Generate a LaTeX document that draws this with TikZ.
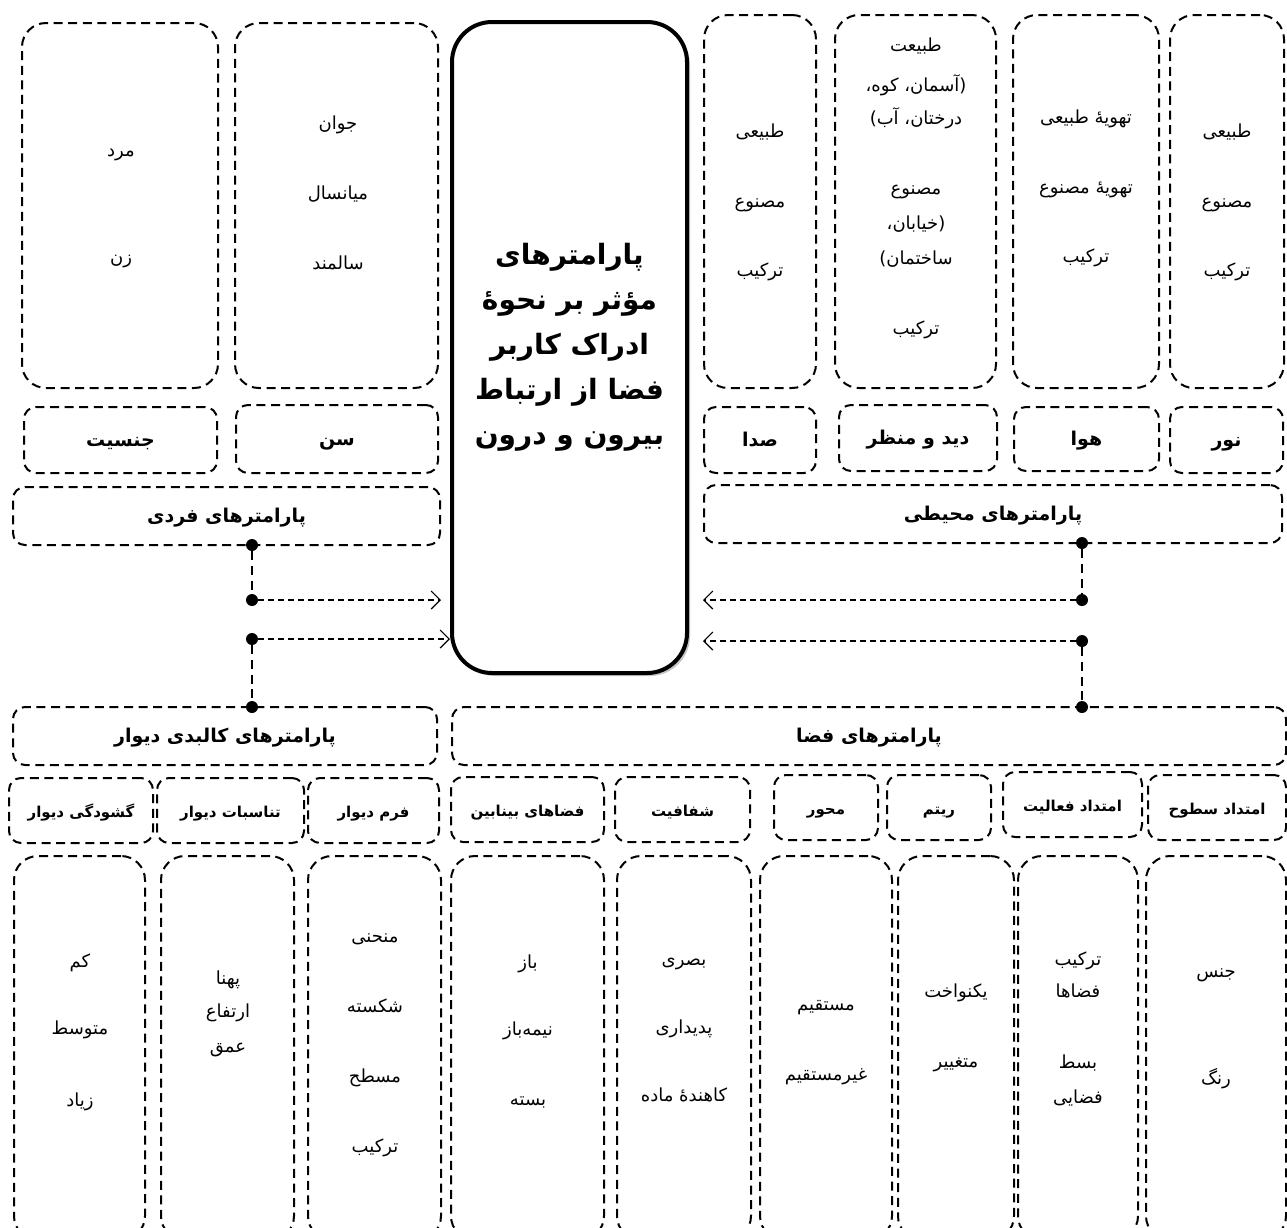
\documentclass[tikz,border=0pt]{standalone}
\usepackage{fontspec}
\usetikzlibrary{arrows.meta,positioning,shadows}
\newfontfamily\fafont[Script=Arabic]{DejaVu Sans}
\TeXXeTstate=1
\newcommand\rl[1]{\beginR#1\endR}

\tikzset{
  area/.style n args={4}{at={({(#1+#3)/2},{(#2+#4)/2})}, minimum width={(#3-#1)*0.5pt}, minimum height={(#4-#2)*0.5pt}},
  box/.style={draw, line width=1pt, dash pattern=on 4.5pt off 2.8pt, rounded corners=#1, inner sep=0pt, align=center},
  cell/.style={box=12pt},
  head/.style={box=6pt, text height=1.6ex, text depth=0pt, font=\fafont\bfseries\fontsize{9.5}{11}\selectfont},
  subhead/.style={box=6pt, text height=1.6ex, text depth=0pt, font=\fafont\bfseries\fontsize{7.5}{9}\selectfont},
  group/.style={box=6pt, text height=1.6ex, text depth=0pt, font=\fafont\bfseries\fontsize{9.5}{11}\selectfont},
  core/.style={draw, line width=2pt, rounded corners=20pt, inner sep=0pt, fill=white,
    drop shadow={shadow xshift=1.5pt, shadow yshift=-1.5pt, opacity=0.45},
    font=\fafont\bfseries\fontsize{14}{22.5}\selectfont, align=center},
  txt/.style={font=\fafont\fontsize{9}{10}\selectfont, align=center, inner sep=0pt},
  dot/.style={circle, fill, inner sep=0pt, minimum size=6pt},
  link/.style={line width=1pt, dash pattern=on 4.5pt off 2.8pt},
  flow/.style={line width=0.6pt, dash pattern=on 3pt off 2pt, -{Straight Barb[length=4.5pt,width=9pt]}},
}

\begin{document}
\begin{tikzpicture}[x=0.5pt, y=-0.5pt]
    \useasboundingbox (0,0) rectangle (1287,1228);
    \clip (0,0) rectangle (1287,1228);

    % central box
    \node[core, area={452}{22}{687}{673}] (core) {\rl{پارامترهای}\\\rl{مؤثر بر نحوهٔ}\\\rl{ادراک کاربر}\\\rl{فضا از ارتباط}\\\rl{بیرون و درون}};

    % individual parameters
    \node[cell, area={22}{23}{218}{388}] (c-gender) {};
    \node[txt] (t-gender) at (121,208) {\rl{مرد}\\[43.5pt]\rl{زن}};
    \node[cell, area={235}{23}{438}{388}] (c-age) {};
    \node[txt] (t-age) at (338,193) {\rl{جوان}\\[25pt]\rl{میانسال}\\[25pt]\rl{سالمند}};
    \node[head, area={24}{407}{217}{473}] (h-gender) {\rl{جنسیت}};
    \node[head, area={236}{405}{438}{473}] (h-age) {\rl{سن}};
    \node[group, area={13}{487}{440}{545}] (fardi) {\rl{پارامترهای فردی}};

    % environmental parameters
    \node[cell, area={704}{15}{816}{388}] (c-sound) {};
    \node[txt] (t-sound) at (760,202) {\rl{طبیعی}\\[25pt]\rl{مصنوع}\\[24.5pt]\rl{ترکیب}};
    \node[cell, area={835}{15}{996}{388}] (c-view) {};
    \node[txt] (t-view) at (916,188) {\rl{طبیعت}\\[10pt]\rl{(آسمان، کوه،}\\[5pt]\rl{درختان، آب)}\\[25pt]\rl{مصنوع}\\[7.5pt]\rl{(خیابان،}\\[7.5pt]\rl{ساختمان)}\\[25pt]\rl{ترکیب}};
    \node[cell, area={1013}{15}{1159}{388}] (c-air) {};
    \node[txt] (t-air) at (1086,188) {\rl{تهویهٔ طبیعی}\\[25pt]\rl{تهویهٔ مصنوع}\\[24.5pt]\rl{ترکیب}};
    \node[cell, area={1170}{15}{1284}{388}] (c-light) {};
    \node[txt] (t-light) at (1227,202) {\rl{طبیعی}\\[25pt]\rl{مصنوع}\\[24.5pt]\rl{ترکیب}};
    \node[head, area={704}{407}{816}{473}] (h-sound) {\rl{صدا}};
    \node[head, area={839}{405}{997}{471}] (h-view) {\rl{دید و منظر}};
    \node[head, area={1014}{407}{1159}{471}] (h-air) {\rl{هوا}};
    \node[head, area={1170}{407}{1283}{473}] (h-light) {\rl{نور}};
    \node[group, area={704}{485}{1282}{543}] (mohiti) {\rl{پارامترهای محیطی}};

    % wall and space parameters
    \node[group, area={13}{707}{437}{765}] (kalbadi) {\rl{پارامترهای کالبدی دیوار}};
    \node[group, area={452}{707}{1286}{765}] (faza) {\rl{پارامترهای فضا}};

    \node[subhead, area={9}{778}{153}{843}] (h-open) {\rl{گشودگی دیوار}};
    \node[subhead, area={157}{778}{304}{843}] (h-prop) {\rl{تناسبات دیوار}};
    \node[subhead, area={308}{778}{439}{843}] (h-form) {\rl{فرم دیوار}};
    \node[subhead, area={451}{777}{604}{842}] (h-between) {\rl{فضاهای بینابین}};
    \node[subhead, area={615}{777}{750}{842}] (h-transp) {\rl{شفافیت}};
    \node[subhead, area={774}{775}{878}{840}] (h-axis) {\rl{محور}};
    \node[subhead, area={887}{775}{991}{840}] (h-rhythm) {\rl{ریتم}};
    \node[subhead, area={1003}{772}{1142}{837}] (h-activity) {\rl{امتداد فعالیت}};
    \node[subhead, area={1148}{775}{1286}{840}] (h-surface) {\rl{امتداد سطوح}};

    \node[cell, area={14}{856}{145}{1240}] (c-open) {};
    \node[txt] (t-open) at (80,1032) {\rl{کم}\\[23.5pt]\rl{متوسط}\\[26pt]\rl{زیاد}};
    \node[cell, area={161}{856}{294}{1240}] (c-prop) {};
    \node[txt] (t-prop) at (228,1014) {\rl{پهنا}\\[6.5pt]\rl{ارتفاع}\\[7.5pt]\rl{عمق}};
    \node[cell, area={308}{856}{441}{1240}] (c-form) {};
    \node[txt] (t-form) at (375,1045) {\rl{منحنی}\\[25pt]\rl{شکسته}\\[25pt]\rl{مسطح}\\[25pt]\rl{ترکیب}};
    \node[cell, area={451}{856}{604}{1240}] (c-between) {};
    \node[txt] (t-between) at (528,1031) {\rl{باز}\\[23.5pt]\rl{نیمه‌باز}\\[25pt]\rl{بسته}};
    \node[cell, area={617}{856}{751}{1240}] (c-transp) {};
    \node[txt] (t-transp) at (684,1030) {\rl{بصری}\\[24pt]\rl{پدیداری}\\[24pt]\rl{کاهندهٔ ماده}};
    \node[cell, area={760}{856}{892}{1240}] (c-axis) {};
    \node[txt] (t-axis) at (826,1043) {\rl{مستقیم}\\[25pt]\rl{غیرمستقیم}};
    \node[cell, area={898}{856}{1014}{1240}] (c-rhythm) {};
    \node[txt] (t-rhythm) at (956,1028) {\rl{یکنواخت}\\[25pt]\rl{متغییر}};
    \node[cell, area={1018}{856}{1138}{1240}] (c-activity) {};
    \node[txt] (t-activity) at (1078,1029) {\rl{ترکیب}\\[6pt]\rl{فضاها}\\[25.5pt]\rl{بسط}\\[7.5pt]\rl{فضایی}};
    \node[cell, area={1146}{856}{1286}{1240}] (c-surface) {};
    \node[txt] (t-surface) at (1216,1029) {\rl{جنس}\\[42.5pt]\rl{رنگ}};

    % junction dots
    \node[dot] (dl1) at (252,545) {};
    \node[dot] (dl2) at (252,600) {};
    \node[dot] (dl3) at (252,639) {};
    \node[dot] (dl4) at (252,707) {};
    \node[dot] (dr1) at (1082,543) {};
    \node[dot] (dr2) at (1082,600) {};
    \node[dot] (dr3) at (1082,641) {};
    \node[dot] (dr4) at (1082,707) {};

    % connectors
    \draw[link] (dl1) -- (dl2);
    \draw[link] (dl3) -- (dl4);
    \draw[link] (dr1) -- (dr2);
    \draw[link] (dr3) -- (dr4);
    \draw[flow] (dl2) -- (dl2 -| fardi.east);
    \draw[flow] (dl3) -- (dl3 -| core.west);
    \draw[flow] (dr2) -- (dr2 -| mohiti.west);
    \draw[flow] (dr3) -- (dr3 -| mohiti.west);

\end{tikzpicture}
\end{document}
